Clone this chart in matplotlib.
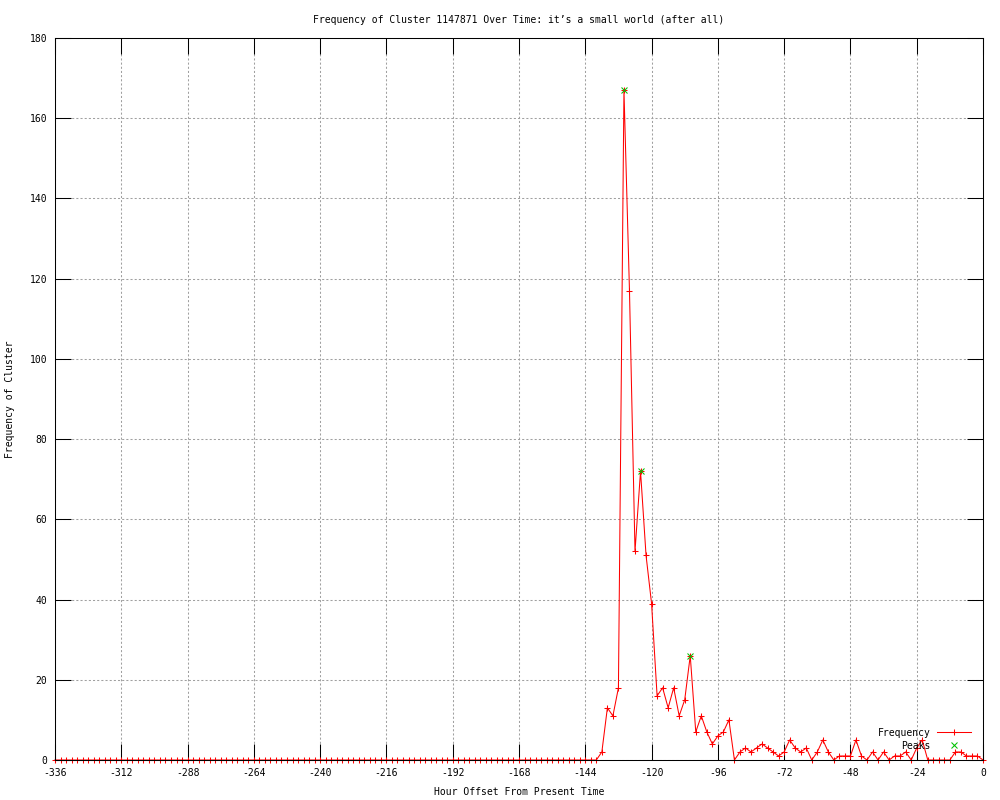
"""
Frequency of a cluster over time, gnuplot-style line + points chart
"""

import numpy as np
import matplotlib
matplotlib.use('Agg')
import matplotlib.pyplot as plt

# Hour offsets (every 2 hours from -336 to 0) and observed frequencies
hours = np.arange(-336, 1, 2)
frequency = [0] * 99 + [
    2, 13, 11, 18, 167, 117, 52, 72, 51, 39,      # -138 .. -120
    16, 18, 13, 18, 11, 15, 26, 7, 11, 7,         # -118 .. -100
    4, 6, 7, 10, 0, 2, 3, 2, 3, 4,                # -98 .. -80
    3, 2, 1, 2, 5, 3, 2, 3, 0, 2,                 # -78 .. -60
    5, 2, 0, 1, 1, 1, 5, 1, 0, 2,                 # -58 .. -40
    0, 2, 0, 1, 1, 2, 0, 3, 5, 0,                 # -38 .. -20
    0, 0, 0, 0, 2, 2, 1, 1, 1, 0,                 # -18 .. 0
]

# Detected peaks
peak_hours = [-130, -124, -106]
peak_values = [167, 72, 26]

x_ticks = np.arange(-336, 1, 24)
y_ticks = np.arange(0, 181, 20)

title = "Frequency of Cluster 1147871 Over Time: it\u2019s a small world (after all)"

plt.rcParams['font.family'] = ['DejaVu Sans Mono']
plt.rcParams['font.size'] = 7
plt.rcParams['axes.unicode_minus'] = False
plt.rcParams['lines.scale_dashes'] = False

fig = plt.figure(figsize=(10, 8), dpi=100)
ax = fig.add_axes([0.055, 0.05, 0.928, 0.9025])

# Data
ax.plot(hours, frequency, color='#ff0000', linewidth=0.75, marker='+',
        markersize=5, markeredgewidth=0.75, clip_on=False, label='Frequency')
ax.plot(peak_hours, peak_values, linestyle='none', color='#00c000', marker='x',
        markersize=4, markeredgewidth=0.75, clip_on=False, label='Peaks')

ax.set_xlim(-336, 0)
ax.set_ylim(0, 180)
ax.set_xticks(x_ticks)
ax.set_yticks(y_ticks)

# Grid and ticks
ax.grid(True, color='#a0a0a0', linewidth=0.75, linestyle=(0, (1.5, 1.5)))
ax.set_axisbelow(True)
ax.tick_params(direction='in', top=True, right=True, length=11.5, width=0.75,
               pad=5.5, labelsize=7)
for spine in ax.spines.values():
    spine.set_linewidth(0.75)

ax.set_title(title, fontsize=7, pad=11)
ax.set_xlabel('Hour Offset From Present Time', fontsize=7)
ax.set_ylabel('Frequency of Cluster', fontsize=7)
ax.xaxis.set_label_coords(0.5, -0.038)
ax.yaxis.set_label_coords(-0.043, 0.5)

ax.legend(loc='lower right', bbox_to_anchor=(0.992, 0.006), frameon=False,
          markerfirst=False, numpoints=1, handlelength=3.5, handletextpad=0.6,
          labelspacing=0.3, borderpad=0, fontsize=7)

plt.savefig('out.png', dpi=100)
plt.close()
